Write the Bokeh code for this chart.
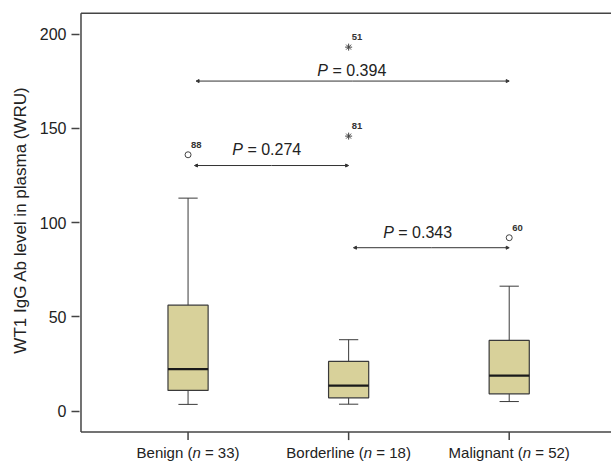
from bokeh.plotting import figure
from bokeh.models import Range1d, Label, Arrow, NormalHead, FixedTicker
from bokeh.embed import file_html
from bokeh.resources import INLINE

# ---- data ----
groups = ["Benign", "Borderline", "Malignant"]
group_n = [33, 18, 52]
whisker_low = [3.6, 3.7, 5.1]
q1 = [11.0, 7.1, 9.2]
median = [22.3, 13.5, 18.9]
q3 = [56.2, 26.4, 37.5]
whisker_high = [113.0, 37.9, 66.3]

# outliers (group index, value, case label)
circle_out_group = [1, 3]
circle_out_value = [136.0, 92.0]
circle_out_label = ["88", "60"]
star_out_group = [2, 2]
star_out_value = [145.9, 193.1]
star_out_label = ["81", "51"]

# comparisons (from group, to group, line level, p value text)
cmp_from = [1.04, 1.05, 2.03]
cmp_to = [2.0, 3.0, 3.0]
cmp_level = [130.3, 175.1, 86.7]
cmp_p = ["0.274", "0.394", "0.343"]
cmp_text_x = [1.49, 2.02, 2.43]
cmp_text_base = [136.0, 178.1, 92.3]

y_ticks = [0, 50, 100, 150, 200]
y_axis_min = -11.1
y_axis_max = 211.1
x_axis_min = 0.3333
x_axis_max = 3.637
y_title = "WT1 IgG Ab level in plasma (WRU)"

FONT = "Liberation Sans"
W = {"0": .556, "1": .556, "2": .556, "3": .556, "4": .556, "5": .556, "6": .556,
     "7": .556, "8": .556, "9": .556, " ": .278, "(": .333, ")": .333, "=": .584,
     ".": .278, "B": .667, "M": .833, "P": .667, "a": .556, "d": .556, "e": .556,
     "g": .556, "i": .222, "l": .222, "n": .556, "o": .556, "r": .333, "t": .278}


def tw(s, size):
    return sum(W.get(c, .556) for c in s) * size


p = figure(width=611, height=461, output_backend="svg", toolbar_location=None,
           x_range=Range1d(0.324, 3.637), y_range=Range1d(-26.7, 212.0),
           min_border_left=79, min_border_right=0, min_border_top=11, min_border_bottom=0)
p.outline_line_color = None
p.grid.visible = False
p.background_fill_color = "white"
p.border_fill_color = "white"

AX = "#444444"
xs = [1, 2, 3]
bw = 0.25
cw = 0.12
box_color = "#d8d19a"
edge = "#3a3a3a"

# frame lines (left axis, bottom axis, top border)
p.segment(x0=[x_axis_min, x_axis_min, x_axis_min], y0=[y_axis_min, y_axis_min, y_axis_max],
          x1=[x_axis_min, x_axis_max, x_axis_max], y1=[y_axis_max, y_axis_min, y_axis_max],
          line_color=AX, line_width=1.5)
# x ticks (8 px long)
tick_len = 8 * (212.0 + 26.7) / 450
p.segment(x0=xs, y0=[y_axis_min] * 3, x1=xs, y1=[y_axis_min - tick_len] * 3,
          line_color=AX, line_width=1.5)

# whiskers
p.segment(x0=xs, y0=q3, x1=xs, y1=whisker_high, line_color=edge, line_width=1)
p.segment(x0=xs, y0=whisker_low, x1=xs, y1=q1, line_color=edge, line_width=1)
p.segment(x0=[x - cw / 2 for x in xs], y0=whisker_high, x1=[x + cw / 2 for x in xs],
          y1=whisker_high, line_color=edge, line_width=1)
p.segment(x0=[x - cw / 2 for x in xs], y0=whisker_low, x1=[x + cw / 2 for x in xs],
          y1=whisker_low, line_color=edge, line_width=1)
# boxes
p.vbar(x=xs, width=bw, bottom=q1, top=q3, fill_color=box_color, line_color=edge, line_width=1.2)
p.segment(x0=[x - bw / 2 for x in xs], y0=median, x1=[x + bw / 2 for x in xs], y1=median,
          line_color="#1a1a1a", line_width=2.2)

# outliers
p.scatter(x=circle_out_group, y=circle_out_value, marker="circle", size=6,
          fill_color="white", line_color="#444444", line_width=1)
p.scatter(x=star_out_group, y=star_out_value, marker="asterisk", size=7,
          line_color="#444444", line_width=1)
for g, v, lab in zip(circle_out_group + star_out_group, circle_out_value + star_out_value,
                     circle_out_label + star_out_label):
    p.add_layout(Label(x=g, y=v, text=lab, x_offset=3, y_offset=10, text_font=FONT,
                       text_font_size="9.5px", text_font_style="bold", text_color="#333333",
                       text_baseline="middle", text_align="left"))

# comparison arrows and p-values
for a, b, lvl, pv, tx, tb in zip(cmp_from, cmp_to, cmp_level, cmp_p, cmp_text_x, cmp_text_base):
    for end_x in (a, b):
        p.add_layout(Arrow(x_start=(a + b) / 2, y_start=lvl, x_end=end_x, y_end=lvl,
                           line_color="#333333", line_width=1,
                           end=NormalHead(size=3, fill_color="#333333", line_color="#333333")))
    fs = 16
    rest = "= " + pv
    total = tw("P " + rest, fs)
    p.add_layout(Label(x=tx, y=tb, text="P", x_offset=-total / 2, y_offset=5, text_font=FONT,
                       text_font_size=f"{fs}px", text_font_style="italic", text_color="#222222",
                       text_baseline="alphabetic", text_align="left"))
    p.add_layout(Label(x=tx, y=tb, text=rest, x_offset=-total / 2 + tw("P ", fs), y_offset=5,
                       text_font=FONT, text_font_size=f"{fs}px", text_color="#222222",
                       text_baseline="alphabetic", text_align="left"))

# y axis (line drawn above as a segment); leading no-break spaces lift the title
# so that it is centred on the drawn axis rather than on the whole frame
p.yaxis.ticker = FixedTicker(ticks=y_ticks)
p.yaxis.axis_label = "\u00a0" * 7 + y_title
p.yaxis.axis_label_text_font = FONT
p.yaxis.axis_label_text_font_size = "17px"
p.yaxis.axis_label_text_font_style = "normal"
p.yaxis.axis_label_text_color = "#222222"
p.yaxis.axis_label_standoff = 7
p.yaxis.major_label_text_font = FONT
p.yaxis.major_label_text_font_size = "16px"
p.yaxis.major_label_text_color = "#222222"
p.yaxis.major_label_standoff = 5
p.yaxis.major_tick_out = 8
p.yaxis.major_tick_in = 0
p.yaxis.minor_tick_out = 0
p.yaxis.minor_tick_in = 0
p.yaxis.axis_line_color = None
p.yaxis.major_tick_line_color = AX
p.yaxis.major_tick_line_width = 1.5
p.xaxis.visible = False

# category labels with italic n
fs = 15
for x, g, n in zip(xs, groups, group_n):
    a = g + " ("
    b = "n"
    c = f"= {n})"
    total = tw(a + b + " " + c, fs)
    start = -total / 2
    common = dict(x=x, y=y_axis_min, y_offset=-11.5, text_font=FONT, text_font_size=f"{fs}px",
                  text_color="#222222", text_baseline="top", text_align="left")
    p.add_layout(Label(text=a, x_offset=start, **common))
    p.add_layout(Label(text=b, x_offset=start + tw(a, fs), text_font_style="italic", **common))
    p.add_layout(Label(text=c, x_offset=start + tw(a + b + " ", fs), **common))

open("out.html", "w").write(file_html(p, INLINE))
